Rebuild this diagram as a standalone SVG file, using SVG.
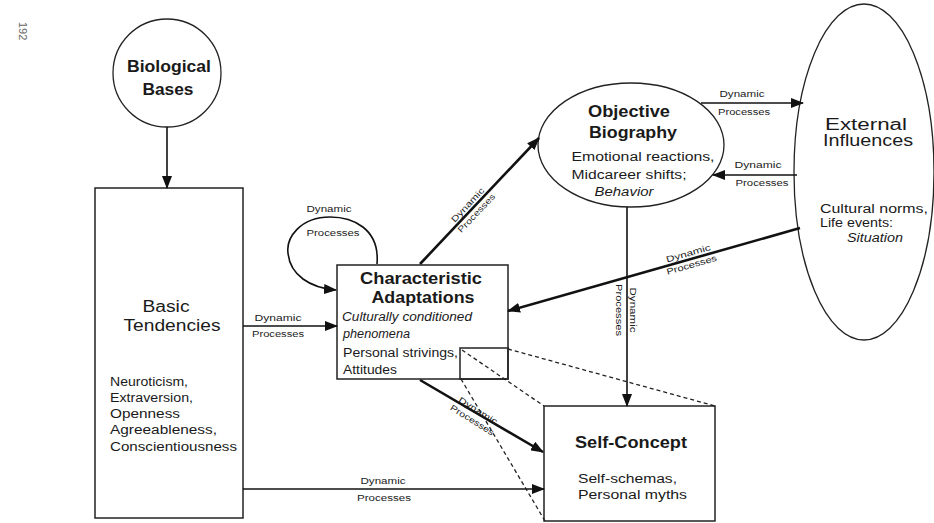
<svg xmlns="http://www.w3.org/2000/svg" width="934" height="523" viewBox="0 0 934 523">
<defs>
<marker id="ah" markerUnits="userSpaceOnUse" markerWidth="13" markerHeight="10" refX="12" refY="5" orient="auto">
<path d="M0,0 L13,5 L0,10 z" fill="#111"/>
</marker>
<style>
text{font-family:"Liberation Sans",Arial,sans-serif;fill:#1a1a1a}
.h{font-size:16px;font-weight:bold}
.hn{font-size:16px}
.b{font-size:12.5px}
.i{font-size:12.5px;font-style:italic}
.l{font-size:8.5px}
.shape{fill:none;stroke:#222;stroke-width:1.5}
.ell{fill:none;stroke:#222;stroke-width:1.3}
.c{fill:none;stroke:#111;stroke-width:1.6}
.t{fill:none;stroke:#111;stroke-width:2.6}
.d{fill:none;stroke:#222;stroke-width:1.3;stroke-dasharray:4 3}
</style>
</defs>
<rect width="934" height="523" fill="#fff"/>
<text x="19" y="22" transform="rotate(90 19 22)" style="font-size:11px;fill:#666">192</text>

<g id="biological-bases">
<circle class="ell" cx="167" cy="73" r="54"/>
<text class="h" x="169" y="72" text-anchor="middle" textLength="84" lengthAdjust="spacingAndGlyphs">Biological</text>
<text class="h" x="168" y="95" text-anchor="middle" textLength="51" lengthAdjust="spacingAndGlyphs">Bases</text>
</g>

<g id="basic-tendencies">
<rect class="shape" x="95" y="188" width="148" height="330"/>
<text class="hn" x="166" y="312" text-anchor="middle" textLength="47" lengthAdjust="spacingAndGlyphs">Basic</text>
<text class="hn" x="172" y="331" text-anchor="middle" textLength="97" lengthAdjust="spacingAndGlyphs">Tendencies</text>
<text class="b" x="110" y="386" textLength="78" lengthAdjust="spacingAndGlyphs">Neuroticism,</text>
<text class="b" x="110" y="402" textLength="83" lengthAdjust="spacingAndGlyphs">Extraversion,</text>
<text class="b" x="110" y="418" textLength="70" lengthAdjust="spacingAndGlyphs">Openness</text>
<text class="b" x="110" y="434" textLength="107" lengthAdjust="spacingAndGlyphs">Agreeableness,</text>
<text class="b" x="110" y="451" textLength="127" lengthAdjust="spacingAndGlyphs">Conscientiousness</text>
</g>

<g id="characteristic-adaptations">
<rect class="shape" x="337" y="265" width="171" height="114"/>
<rect class="shape" x="460" y="348" width="48" height="31"/>
<text class="h" x="421" y="284" text-anchor="middle" textLength="122" lengthAdjust="spacingAndGlyphs">Characteristic</text>
<text class="h" x="423" y="303" text-anchor="middle" textLength="103" lengthAdjust="spacingAndGlyphs">Adaptations</text>
<text class="i" x="342" y="321" textLength="130" lengthAdjust="spacingAndGlyphs">Culturally conditioned</text>
<text class="i" x="343" y="338" textLength="67" lengthAdjust="spacingAndGlyphs">phenomena</text>
<text class="b" x="343" y="357" textLength="115" lengthAdjust="spacingAndGlyphs">Personal strivings,</text>
<text class="b" x="343" y="374" textLength="54" lengthAdjust="spacingAndGlyphs">Attitudes</text>
</g>

<g id="objective-biography">
<ellipse class="ell" cx="631" cy="145" rx="93" ry="62"/>
<text class="h" x="629" y="117" text-anchor="middle" textLength="82" lengthAdjust="spacingAndGlyphs">Objective</text>
<text class="h" x="633" y="138" text-anchor="middle" textLength="88" lengthAdjust="spacingAndGlyphs">Biography</text>
<text class="b" x="643" y="161" text-anchor="middle" textLength="143" lengthAdjust="spacingAndGlyphs">Emotional reactions,</text>
<text class="b" x="629" y="179" text-anchor="middle" textLength="115" lengthAdjust="spacingAndGlyphs">Midcareer shifts;</text>
<text class="i" x="624" y="196" text-anchor="middle" textLength="59" lengthAdjust="spacingAndGlyphs">Behavior</text>
</g>

<g id="external-influences">
<ellipse class="ell" cx="864" cy="172" rx="70" ry="168"/>
<text class="hn" x="866" y="130" text-anchor="middle" textLength="82" lengthAdjust="spacingAndGlyphs">External</text>
<text class="hn" x="868" y="146" text-anchor="middle" textLength="90" lengthAdjust="spacingAndGlyphs">Influences</text>
<text class="b" x="820" y="213" textLength="108" lengthAdjust="spacingAndGlyphs">Cultural norms,</text>
<text class="b" x="820" y="227" textLength="73" lengthAdjust="spacingAndGlyphs">Life events:</text>
<text class="i" x="875" y="242" text-anchor="middle" textLength="56" lengthAdjust="spacingAndGlyphs">Situation</text>
</g>

<g id="self-concept">
<rect class="shape" x="544" y="406" width="171" height="115"/>
<text class="h" x="631" y="448" text-anchor="middle" textLength="112" lengthAdjust="spacingAndGlyphs">Self-Concept</text>
<text class="b" x="578" y="483" textLength="99" lengthAdjust="spacingAndGlyphs">Self-schemas,</text>
<text class="b" x="578" y="499" textLength="109" lengthAdjust="spacingAndGlyphs">Personal myths</text>
</g>

<g id="connectors">
<line class="c" x1="167" y1="127" x2="167" y2="188" marker-end="url(#ah)"/>
<path class="c" d="M377 264 C380 228 352 217 330 217 C300 217 286 238 288 253 C290 275 310 288 336 290" marker-end="url(#ah)"/>
<line class="c" x1="243" y1="326" x2="337" y2="326" marker-end="url(#ah)"/>
<line class="c" x1="243" y1="489" x2="544" y2="489" marker-end="url(#ah)"/>
<line class="t" x1="420" y1="264" x2="539" y2="138" marker-end="url(#ah)"/>
<line class="c" x1="701" y1="103" x2="803" y2="103" marker-end="url(#ah)"/>
<line class="c" x1="797" y1="175" x2="713" y2="175" marker-end="url(#ah)"/>
<line class="t" x1="800" y1="228" x2="508" y2="311" marker-end="url(#ah)"/>
<line class="c" x1="627" y1="207" x2="627" y2="406" marker-end="url(#ah)"/>
<line class="t" x1="420" y1="380" x2="543" y2="452" marker-end="url(#ah)"/>
<line class="d" x1="462" y1="350" x2="544" y2="406"/>
<line class="d" x1="508" y1="349" x2="715" y2="406"/>
<line class="d" x1="461" y1="379" x2="545" y2="521"/>

<text class="l" x="329" y="212" text-anchor="middle" textLength="45" lengthAdjust="spacingAndGlyphs">Dynamic</text>
<text class="l" x="333" y="236" text-anchor="middle" textLength="53" lengthAdjust="spacingAndGlyphs">Processes</text>
<text class="l" x="278" y="321" text-anchor="middle" textLength="47" lengthAdjust="spacingAndGlyphs">Dynamic</text>
<text class="l" x="278" y="337" text-anchor="middle" textLength="52" lengthAdjust="spacingAndGlyphs">Processes</text>
<text class="l" x="383" y="484" text-anchor="middle" textLength="45" lengthAdjust="spacingAndGlyphs">Dynamic</text>
<text class="l" x="384" y="501" text-anchor="middle" textLength="54" lengthAdjust="spacingAndGlyphs">Processes</text>
<text class="l" x="742" y="97" text-anchor="middle" textLength="45" lengthAdjust="spacingAndGlyphs">Dynamic</text>
<text class="l" x="744" y="115" text-anchor="middle" textLength="52" lengthAdjust="spacingAndGlyphs">Processes</text>
<text class="l" x="758" y="168" text-anchor="middle" textLength="47" lengthAdjust="spacingAndGlyphs">Dynamic</text>
<text class="l" x="762" y="186" text-anchor="middle" textLength="53" lengthAdjust="spacingAndGlyphs">Processes</text>
<g transform="translate(472 209) rotate(-46.6)">
<text class="l" x="0" y="-3" text-anchor="middle" textLength="44" lengthAdjust="spacingAndGlyphs">Dynamic</text>
<text class="l" x="0" y="9" text-anchor="middle" textLength="50" lengthAdjust="spacingAndGlyphs">Processes</text>
</g>
<g transform="translate(690 259) rotate(-15.9)">
<text class="l" x="0" y="-3" text-anchor="middle" textLength="46" lengthAdjust="spacingAndGlyphs">Dynamic</text>
<text class="l" x="0" y="9" text-anchor="middle" textLength="52" lengthAdjust="spacingAndGlyphs">Processes</text>
</g>
<g transform="translate(627 310) rotate(90)">
<text class="l" x="0" y="-3" text-anchor="middle" textLength="45" lengthAdjust="spacingAndGlyphs">Dynamic</text>
<text class="l" x="0" y="11" text-anchor="middle" textLength="52" lengthAdjust="spacingAndGlyphs">Processes</text>
</g>
<g transform="translate(476 414) rotate(32)">
<text class="l" x="0" y="-1" text-anchor="middle" textLength="44" lengthAdjust="spacingAndGlyphs">Dynamic</text>
<text class="l" x="0" y="10" text-anchor="middle" textLength="50" lengthAdjust="spacingAndGlyphs">Processes</text>
</g>
</g>
</svg>
